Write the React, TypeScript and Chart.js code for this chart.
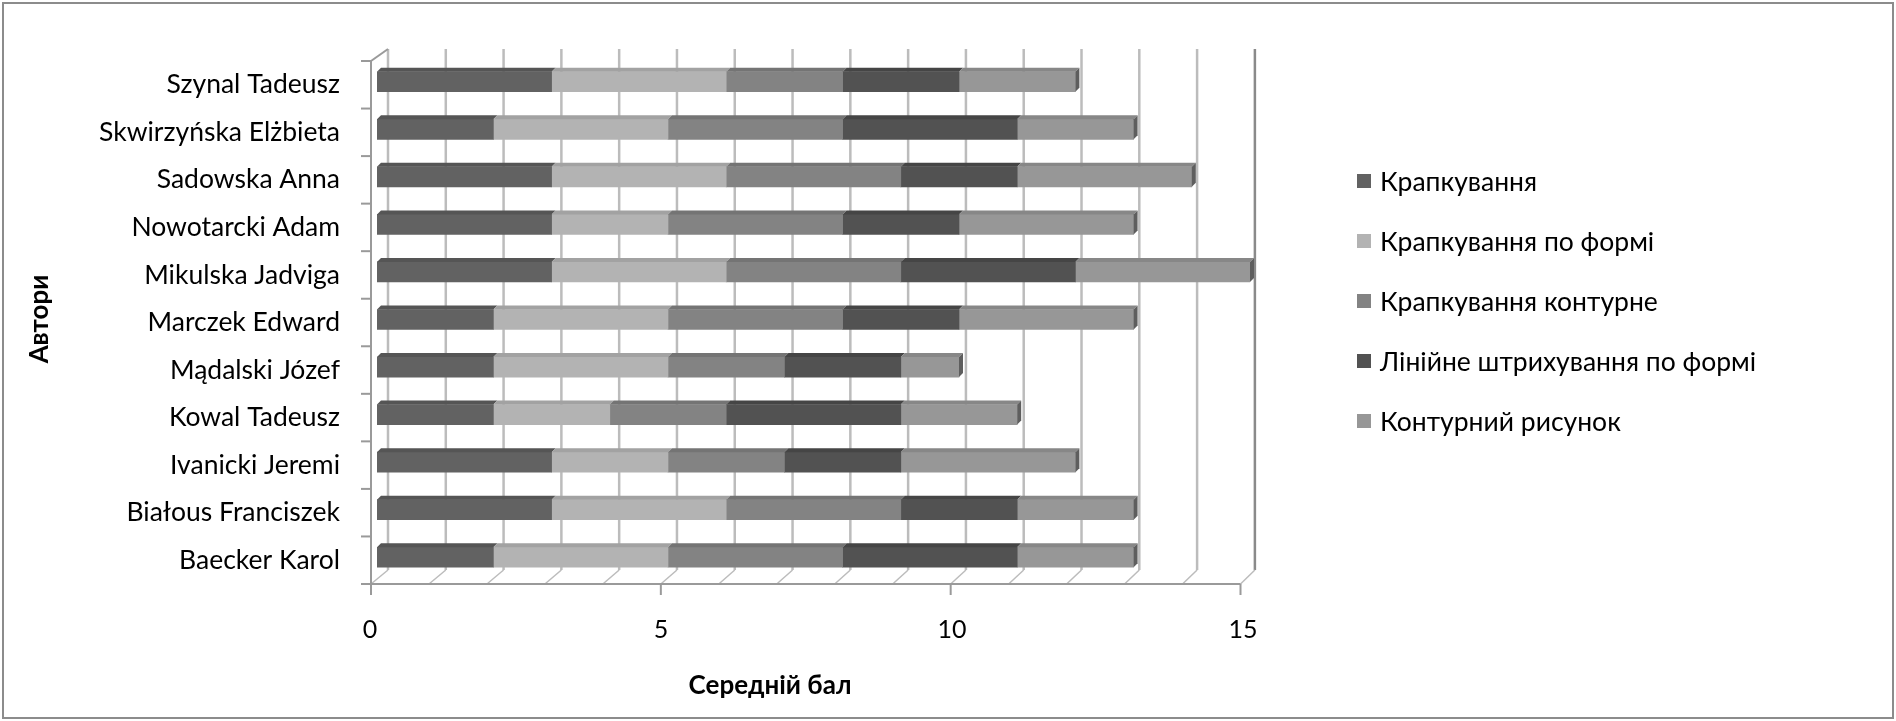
import React, { useEffect, useRef } from 'react';
import { Chart, registerables } from 'chart.js';

Chart.register(...registerables);

// ---------- data ----------
const categories = [
  'Szynal Tadeusz',
  'Skwirzyńska Elżbieta',
  'Sadowska Anna',
  'Nowotarcki Adam',
  'Mikulska Jadviga',
  'Marczek Edward',
  'Mądalski Józef',
  'Kowal Tadeusz',
  'Ivanicki Jeremi',
  'Białous Franciszek',
  'Baecker Karol',
];
const seriesNames = [
  'Крапкування',
  'Крапкування по формі',
  'Крапкування контурне',
  'Лінійне штрихування по формі',
  'Контурний рисунок',
];
const krapkuvannia = [3, 2, 3, 3, 3, 2, 2, 2, 3, 3, 2];
const krapkuvanniaPoFormi = [3, 3, 3, 2, 3, 3, 3, 2, 2, 3, 3];
const krapkuvanniaKonturne = [2, 3, 3, 3, 3, 3, 2, 2, 2, 3, 3];
const liniineShtrykhuvannia = [2, 3, 2, 2, 3, 2, 2, 3, 2, 2, 3];
const konturnyiRysunok = [2, 2, 3, 3, 3, 3, 1, 2, 3, 2, 2];
const xTicks = [0, 5, 10, 15];
const xTitle = 'Середній бал';
const yTitle = 'Автори';

// ---------- styles ----------
const seriesColors = ['#626262', '#b3b3b3', '#838383', '#525252', '#979797'];
const topColors = ['#555555', '#a2a2a2', '#747474', '#454545', '#878787'];
const FONT = 'Lato, "Liberation Sans", sans-serif';

const frame3d = {
  id: 'frame3d',
  beforeDraw(chart: any) {
    const { ctx, width, height } = chart;
    ctx.save();
    ctx.fillStyle = '#ffffff';
    ctx.fillRect(0, 0, width, height);
    ctx.strokeStyle = '#8c8c8c';
    ctx.lineWidth = 2;
    ctx.strokeRect(3, 3, width - 6, height - 6);
    ctx.restore();
  },
  beforeDatasetsDraw(chart: any) {
    const { ctx, chartArea } = chart;
    const xs = chart.scales.x;
    const p0 = xs.getPixelForValue(0);
    const backX = (v: number) => p0 + 11 + (xs.getPixelForValue(v) - p0) * 0.993;
    const frontX = (v: number) => p0 - 6 + (xs.getPixelForValue(v) - p0) * 0.996;
    const backTop = chartArea.top - 9;
    const backBottom = chartArea.bottom - 11;
    const frontTop = chartArea.top + 3;
    const frontBottom = chartArea.bottom + 3;
    ctx.save();
    ctx.lineCap = 'butt';
    for (let v = 0; v <= 15; v++) {
      const xb = backX(v);
      const xf = frontX(v);
      ctx.strokeStyle = v === 15 ? '#8a8a8a' : '#bcbcbc';
      ctx.lineWidth = 2.5;
      ctx.beginPath();
      ctx.moveTo(xb, backTop);
      ctx.lineTo(xb, backBottom);
      ctx.stroke();
      ctx.strokeStyle = '#bcbcbc';
      ctx.lineWidth = 1.5;
      ctx.beginPath();
      ctx.moveTo(xf, frontBottom);
      ctx.lineTo(xb, backBottom);
      ctx.stroke();
    }
    const xf0 = frontX(0);
    const xf15 = frontX(15);
    const xb0 = backX(0);
    ctx.strokeStyle = '#9a9a9a';
    ctx.lineWidth = 2;
    ctx.beginPath();
    ctx.moveTo(xf0, frontBottom);
    ctx.lineTo(xf15, frontBottom);
    ctx.stroke();
    xTicks.forEach((v) => {
      const xf = frontX(v);
      ctx.beginPath();
      ctx.moveTo(xf, frontBottom);
      ctx.lineTo(xf, frontBottom + 11);
      ctx.stroke();
    });
    ctx.beginPath();
    ctx.moveTo(xf0, frontTop);
    ctx.lineTo(xf0, frontBottom);
    ctx.stroke();
    ctx.beginPath();
    ctx.moveTo(xf0, frontTop);
    ctx.lineTo(xb0, backTop);
    ctx.stroke();
    const n = categories.length;
    for (let k = 0; k <= n; k++) {
      const y = frontTop + (k * (frontBottom - frontTop)) / n;
      ctx.beginPath();
      ctx.moveTo(xf0 - 10, y);
      ctx.lineTo(xf0, y);
      ctx.stroke();
    }
    ctx.restore();
  },
  afterDatasetsDraw(chart: any) {
    const { ctx } = chart;
    const d = 4;
    const nSets = chart.data.datasets.length;
    ctx.save();
    chart.data.datasets.forEach((ds: any, di: number) => {
      const meta = chart.getDatasetMeta(di);
      meta.data.forEach((el: any) => {
        const left = Math.min(el.base, el.x);
        const right = Math.max(el.base, el.x);
        const top = el.y - el.height / 2;
        const bottom = el.y + el.height / 2;
        ctx.fillStyle = topColors[di];
        ctx.beginPath();
        ctx.moveTo(left, top);
        ctx.lineTo(left + d, top - d);
        ctx.lineTo(right + d, top - d);
        ctx.lineTo(right, top);
        ctx.closePath();
        ctx.fill();
        if (di === nSets - 1) {
          ctx.fillStyle = '#5e5e5e';
          ctx.beginPath();
          ctx.moveTo(right, top);
          ctx.lineTo(right + d, top - d);
          ctx.lineTo(right + d, bottom - d);
          ctx.lineTo(right, bottom);
          ctx.closePath();
          ctx.fill();
        }
      });
    });
    ctx.restore();
  },
  afterDraw(chart: any) {
    const { ctx } = chart;
    ctx.save();
    ctx.font = `26.5px ${FONT}`;
    ctx.textBaseline = 'middle';
    ctx.textAlign = 'left';
    chart.data.datasets.forEach((ds: any, i: number) => {
      const cy = 181 + i * 60;
      ctx.fillStyle = ds.backgroundColor;
      ctx.fillRect(1357, cy - 7, 14, 14);
      ctx.fillStyle = '#000000';
      ctx.fillText(ds.label, 1380, cy + 1);
    });
    ctx.font = `bold 26px ${FONT}`;
    ctx.textAlign = 'center';
    ctx.fillText(xTitle, 770, 686);
    ctx.translate(40, 319);
    ctx.rotate(-Math.PI / 2);
    ctx.fillText(yTitle, 0, 0);
    ctx.restore();
  },
};

export default function App() {
  const canvasRef = useRef<HTMLCanvasElement | null>(null);

  useEffect(() => {
    document.body.style.margin = '0';
    const canvas = canvasRef.current;
    if (!canvas) return;
    const values = [
      krapkuvannia,
      krapkuvanniaPoFormi,
      krapkuvanniaKonturne,
      liniineShtrykhuvannia,
      konturnyiRysunok,
    ];
    const chart = new Chart(canvas, {
      type: 'bar',
      data: {
        labels: categories,
        datasets: seriesNames.map((name, i) => ({
          label: name,
          data: values[i],
          backgroundColor: seriesColors[i],
          borderWidth: 0,
          barThickness: 20,
        })),
      },
      options: {
        indexAxis: 'y',
        responsive: true,
        maintainAspectRatio: false,
        animation: false,
        layout: { padding: { left: 0, right: 646, top: 58, bottom: 40 } },
        plugins: {
          legend: { display: false },
          tooltip: { enabled: false },
        },
        scales: {
          x: {
            stacked: true,
            min: 0,
            max: 15,
            ticks: {
              stepSize: 5,
              padding: 34,
              labelOffset: -7,
              color: '#000000',
              font: { family: FONT, size: 25 },
            },
            grid: { display: false, drawTicks: false },
            border: { display: false },
            afterFit: (s: any) => {
              s.height = 100;
            },
          },
          y: {
            stacked: true,
            ticks: {
              padding: 37,
              labelOffset: 3,
              color: '#000000',
              font: { family: FONT, size: 26.5 },
            },
            grid: { display: false, drawTicks: false },
            border: { display: false },
            afterFit: (s: any) => {
              s.width = 377;
            },
          },
        },
      },
      plugins: [frame3d],
    });
    return () => chart.destroy();
  }, []);

  return (
    <div style={{ position: 'absolute', left: 0, top: 0, width: 1896, height: 721 }}>
      <canvas ref={canvasRef} />
    </div>
  );
}
